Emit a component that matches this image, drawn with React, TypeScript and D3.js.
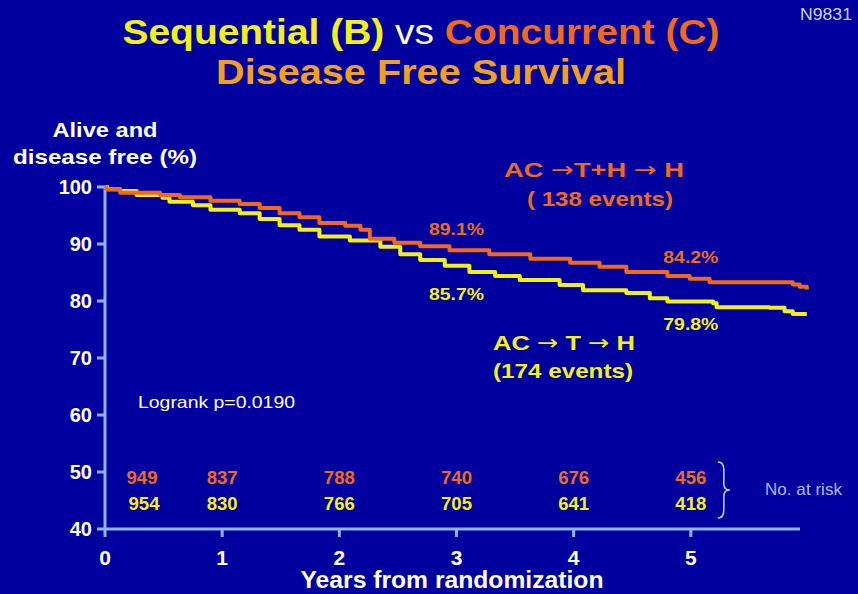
import { useEffect, useRef } from 'react';
import * as d3 from 'd3';

// Kaplan-Meier steps (years, % alive and disease free)
const concurrentYears = [0, 0.01, 0.13, 0.47, 0.64, 0.9, 1.15, 1.32, 1.49, 1.66, 1.83, 2.05, 2.18, 2.26, 2.47, 2.69, 2.94, 3.28, 3.63, 3.97, 4.22, 4.45, 4.8, 4.99, 5.16, 5.87, 5.93, 5.99];
const concurrentDfs = [100, 99.6, 99.0, 98.6, 98.2, 97.6, 97.0, 96.3, 95.4, 94.7, 93.7, 93.2, 92.5, 90.9, 90.2, 89.6, 88.9, 88.2, 87.4, 86.7, 86.0, 85.1, 84.4, 83.9, 83.3, 82.9, 82.5, 82.0];

const sequentialYears = [0, 0.02, 0.13, 0.27, 0.49, 0.55, 0.75, 0.9, 1.15, 1.32, 1.49, 1.66, 1.83, 2.09, 2.35, 2.52, 2.69, 2.9, 3.11, 3.33, 3.54, 3.88, 4.08, 4.45, 4.65, 4.8, 5.19, 5.22, 5.67, 5.8, 5.87, 5.99];
const sequentialDfs = [100, 99.6, 99.3, 98.6, 98.1, 97.4, 96.8, 96.0, 95.4, 94.4, 93.3, 92.5, 91.3, 90.6, 89.5, 88.2, 87.2, 86.2, 85.1, 84.4, 83.7, 82.8, 81.9, 81.4, 80.5, 79.9, 79.6, 78.9, 78.8, 78.2, 77.7, 77.7];

const yTicks = [40, 50, 60, 70, 80, 90, 100];
const xTicks = [0, 1, 2, 3, 4, 5];

const riskYears = [0, 1, 2, 3, 4, 5];
const riskConcurrent = [949, 837, 788, 740, 676, 456];
const riskSequential = [954, 830, 766, 705, 641, 418];

const markYears = [3, 5];
const concurrentMarks = [89.1, 84.2];
const sequentialMarks = [85.7, 79.8];

const BG = '#00009e';
const ORANGE = '#ef6a1c';
const YELLOW = '#f2f01a';
const AMBER = '#f0a020';
const AXIS = '#8cb4ff';
const SANS = '"Liberation Sans", Arial, sans-serif';
const ARROW = '"DejaVu Sans", sans-serif';

type Sel = d3.Selection<SVGSVGElement, unknown, null, undefined>;

function label(
  svg: Sel, text: string, x: number, y: number, size: number, fill: string,
  opts: { anchor?: string; bold?: boolean; len?: number } = {}
) {
  const t = svg.append('text')
    .attr('x', x).attr('y', y)
    .attr('text-anchor', opts.anchor ?? 'start')
    .attr('font-family', SANS)
    .attr('font-weight', opts.bold === false ? 'normal' : 'bold')
    .attr('font-size', size)
    .attr('fill', fill)
    .text(text);
  if (opts.len) t.attr('textLength', opts.len).attr('lengthAdjust', 'spacingAndGlyphs');
  return t;
}

// text with arrow glyphs taken from a font that draws long arrows
function arrowLabel(svg: Sel, parts: string[], x: number, y: number, size: number, fill: string, len: number, anchor = 'start') {
  const t = svg.append('text')
    .attr('x', x).attr('y', y)
    .attr('text-anchor', anchor)
    .attr('font-family', SANS).attr('font-weight', 'bold').attr('font-size', size)
    .attr('fill', fill)
    .attr('textLength', len).attr('lengthAdjust', 'spacingAndGlyphs');
  parts.forEach(p => {
    if (p === '\u2192') t.append('tspan').attr('font-family', ARROW).attr('font-weight', 'normal').text(p);
    else t.append('tspan').text(p);
  });
  return t;
}

export default function App() {
  const svgRef = useRef<SVGSVGElement>(null);

  useEffect(() => {
    document.body.style.margin = '0';
    document.body.style.background = BG;
    if (!svgRef.current) return;

    const svg = d3.select(svgRef.current) as Sel;
    svg.selectAll('*').remove();

    const width = 858;
    const height = 594;

    svg.append('rect').attr('width', width).attr('height', height).attr('fill', BG);

    const x = d3.scaleLinear().domain([0, 6]).range([105, 808]);
    const y = d3.scaleLinear().domain([40, 100]).range([529, 187]);

    // Title
    const t1 = svg.append('text')
      .attr('x', 421).attr('y', 44)
      .attr('text-anchor', 'middle')
      .attr('font-family', SANS).attr('font-weight', 'bold').attr('font-size', 35)
      .attr('textLength', 597).attr('lengthAdjust', 'spacingAndGlyphs');
    t1.append('tspan').attr('fill', YELLOW).text('Sequential (B) ');
    t1.append('tspan').attr('fill', '#ffffff').attr('font-weight', 'normal').text('vs ');
    t1.append('tspan').attr('fill', ORANGE).text('Concurrent (C)');

    label(svg, 'Disease Free Survival', 421, 84, 35, AMBER, { anchor: 'middle', len: 410 });
    label(svg, 'N9831', 852, 20, 16, '#c8d2ec', { anchor: 'end', bold: false, len: 52 });

    // Y axis title
    label(svg, 'Alive and', 105, 137, 21, '#ffffff', { anchor: 'middle', len: 105 });
    label(svg, 'disease free (%)', 105, 164, 21, '#ffffff', { anchor: 'middle', len: 184 });

    // Axes
    const axisG = svg.append('g');
    axisG.append('line')
      .attr('x1', x(0)).attr('x2', x(0))
      .attr('y1', y(100) - 1).attr('y2', y(40))
      .attr('stroke', AXIS).attr('stroke-width', 3);
    axisG.append('line')
      .attr('x1', x(0) - 1).attr('x2', 800)
      .attr('y1', y(40)).attr('y2', y(40))
      .attr('stroke', AXIS).attr('stroke-width', 3);

    axisG.selectAll('.ytick')
      .data(yTicks)
      .enter()
      .append('line')
      .attr('x1', x(0) - 8).attr('x2', x(0))
      .attr('y1', d => y(d)).attr('y2', d => y(d))
      .attr('stroke', AXIS).attr('stroke-width', 3);

    axisG.selectAll('.ylabel')
      .data(yTicks)
      .enter()
      .append('text')
      .attr('x', x(0) - 13).attr('y', d => y(d) + 7)
      .attr('text-anchor', 'end')
      .attr('font-family', SANS).attr('font-weight', 'bold').attr('font-size', 20)
      .attr('fill', '#ffffff')
      .text(d => d);

    axisG.selectAll('.xtick')
      .data(xTicks)
      .enter()
      .append('line')
      .attr('x1', d => x(d)).attr('x2', d => x(d))
      .attr('y1', y(40)).attr('y2', y(40) + 8)
      .attr('stroke', AXIS).attr('stroke-width', 3);

    axisG.selectAll('.xlabel')
      .data(xTicks)
      .enter()
      .append('text')
      .attr('x', d => x(d)).attr('y', 565)
      .attr('text-anchor', 'middle')
      .attr('font-family', SANS).attr('font-weight', 'bold').attr('font-size', 21)
      .attr('fill', '#ffffff')
      .text(d => d);

    label(svg, 'Years from randomization', 452, 588, 23, '#ffffff', { anchor: 'middle', len: 303 });

    // Curves
    const line = d3.line<[number, number]>()
      .x(d => x(d[0]))
      .y(d => y(d[1]))
      .curve(d3.curveStepAfter);

    const seqData = sequentialYears.map((t, i) => [t, sequentialDfs[i]] as [number, number]);
    const conData = concurrentYears.map((t, i) => [t, concurrentDfs[i]] as [number, number]);

    svg.append('path')
      .attr('d', line(seqData))
      .attr('fill', 'none').attr('stroke', YELLOW).attr('stroke-width', 4)
      .attr('stroke-linejoin', 'round');
    svg.append('path')
      .attr('d', line(conData))
      .attr('fill', 'none').attr('stroke', ORANGE).attr('stroke-width', 4)
      .attr('stroke-linejoin', 'round');

    // Percent labels
    svg.selectAll('.cmark')
      .data(markYears)
      .enter()
      .append('text')
      .attr('x', d => x(d)).attr('y', (d, i) => y(concurrentMarks[i]) - 14)
      .attr('text-anchor', 'middle')
      .attr('font-family', SANS).attr('font-weight', 'bold').attr('font-size', 17)
      .attr('fill', ORANGE)
      .attr('textLength', 55).attr('lengthAdjust', 'spacingAndGlyphs')
      .text((d, i) => `${concurrentMarks[i]}%`);
    svg.selectAll('.smark')
      .data(markYears)
      .enter()
      .append('text')
      .attr('x', d => x(d)).attr('y', (d, i) => y(sequentialMarks[i]) + (i === 0 ? 31 : 28))
      .attr('text-anchor', 'middle')
      .attr('font-family', SANS).attr('font-weight', 'bold').attr('font-size', 17)
      .attr('fill', YELLOW)
      .attr('textLength', 55).attr('lengthAdjust', 'spacingAndGlyphs')
      .text((d, i) => `${sequentialMarks[i]}%`);

    // Arm labels
    arrowLabel(svg, ['AC ', '\u2192', 'T+H ', '\u2192', ' H'], 594, 177, 21, ORANGE, 180, 'middle');
    label(svg, '( 138 events)', 600, 206, 21, ORANGE, { anchor: 'middle', len: 146 });
    arrowLabel(svg, ['AC ', '\u2192', ' T ', '\u2192', ' H'], 493, 350, 21, YELLOW, 142);
    label(svg, '(174 events)', 493, 378, 21, YELLOW, { len: 140 });

    label(svg, 'Logrank p=0.0190', 138, 408, 17, '#ffffff', { bold: false, len: 157 });

    // Numbers at risk
    const riskX = (t: number) => (t === 0 ? x(t) + 37 : x(t));
    svg.selectAll('.rc')
      .data(riskYears)
      .enter()
      .append('text')
      .attr('x', d => riskX(d)).attr('y', 484)
      .attr('text-anchor', 'middle')
      .attr('font-family', SANS).attr('font-weight', 'bold').attr('font-size', 18)
      .attr('textLength', 31).attr('lengthAdjust', 'spacingAndGlyphs')
      .attr('fill', ORANGE)
      .text((d, i) => riskConcurrent[i]);
    svg.selectAll('.rs')
      .data(riskYears)
      .enter()
      .append('text')
      .attr('x', d => riskX(d) + (d === 0 ? 2 : 0)).attr('y', 510)
      .attr('text-anchor', 'middle')
      .attr('font-family', SANS).attr('font-weight', 'bold').attr('font-size', 18)
      .attr('textLength', 31).attr('lengthAdjust', 'spacingAndGlyphs')
      .attr('fill', YELLOW)
      .text((d, i) => riskSequential[i]);

    // Brace
    const bx = x(5) + 27;
    const top = 462;
    const bot = 518;
    const mid = (top + bot) / 2;
    svg.append('path')
      .attr('d', `M${bx},${top} Q${bx + 6},${top} ${bx + 6},${top + 8} L${bx + 6},${mid - 6} Q${bx + 6},${mid} ${bx + 12},${mid} Q${bx + 6},${mid} ${bx + 6},${mid + 6} L${bx + 6},${bot - 8} Q${bx + 6},${bot} ${bx},${bot}`)
      .attr('fill', 'none').attr('stroke', '#c8d4ff').attr('stroke-width', 1.5);

    label(svg, 'No. at risk', 765, 495, 17, '#aabef5', { bold: false, len: 77 });
  }, []);

  return (
    <svg
      ref={svgRef}
      width={858}
      height={594}
      style={{ display: 'block' }}
    />
  );
}
